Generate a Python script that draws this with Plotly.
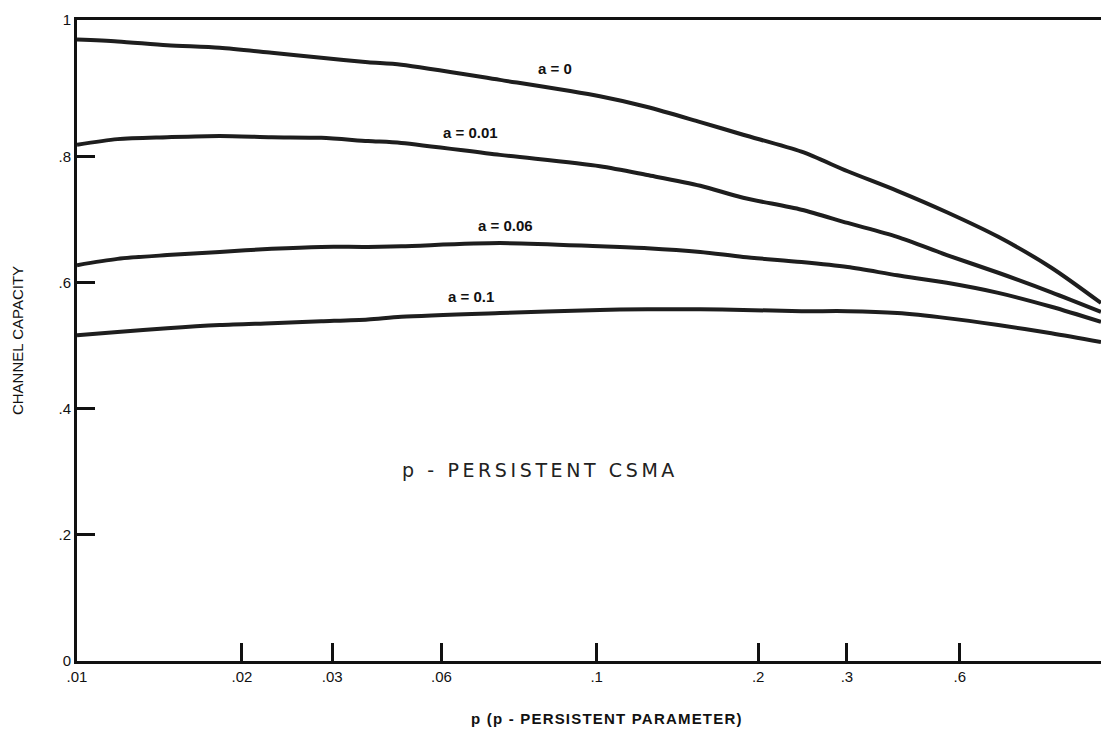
import plotly.graph_objects as go

# p values (x, log scale)
p_vals = [0.01, 0.012, 0.015, 0.019, 0.024, 0.03, 0.037, 0.043, 0.067, 0.105,
          0.13, 0.165, 0.2, 0.26, 0.32, 0.4, 0.5, 0.63, 0.8, 1.0]

# channel capacity for each a
cap_a0 = [0.986, 0.983, 0.977, 0.973, 0.965, 0.957, 0.950, 0.946, 0.922, 0.896,
          0.879, 0.855, 0.835, 0.808, 0.777, 0.746, 0.712, 0.673, 0.624, 0.568]
cap_a001 = [0.819, 0.828, 0.831, 0.833, 0.831, 0.830, 0.825, 0.822, 0.803, 0.785,
            0.771, 0.754, 0.735, 0.716, 0.695, 0.673, 0.644, 0.616, 0.585, 0.554]
cap_a006 = [0.628, 0.638, 0.644, 0.649, 0.654, 0.657, 0.657, 0.658, 0.663, 0.658,
            0.655, 0.649, 0.641, 0.633, 0.625, 0.612, 0.600, 0.584, 0.562, 0.538]
cap_a01 = [0.517, 0.522, 0.528, 0.533, 0.536, 0.539, 0.542, 0.546, 0.552, 0.557,
           0.558, 0.558, 0.557, 0.555, 0.555, 0.552, 0.544, 0.533, 0.520, 0.506]

series = [("a = 0", cap_a0), ("a = 0.01", cap_a001),
          ("a = 0.06", cap_a006), ("a = 0.1", cap_a01)]

x_tick_vals = [0.01, 0.021, 0.0315, 0.0515, 0.1035, 0.214, 0.319, 0.53, 1.0]
x_tick_text = [".01", ".02", ".03", ".06", ".1", ".2", ".3", ".6", "1"]
y_tick_vals = [0, 0.2, 0.4, 0.6, 0.8, 1.017]
y_tick_text = ["0", ".2", ".4", ".6", ".8", "1"]

fig = go.Figure()
for name, ys in series:
    fig.add_trace(go.Scatter(
        x=p_vals, y=ys, mode="lines", name=name,
        line=dict(color="#1e1e1e", width=4, shape="spline", smoothing=0.8),
        showlegend=False, hoverinfo="skip"))

font_main = "Liberation Sans, Arial, sans-serif"

labels = [("a = 0", 0.467, 0.925), ("a = 0.01", 0.384, 0.824),
          ("a = 0.06", 0.418, 0.679), ("a = 0.1", 0.385, 0.569)]
for txt, xp, yp in labels:
    fig.add_annotation(x=xp, y=yp, xref="paper", yref="paper", text=f"<b>{txt}</b>",
                       showarrow=False, font=dict(family=font_main, size=15, color="#111"),
                       xanchor="center", yanchor="middle")

fig.add_annotation(x=0.452, y=0.298, xref="paper", yref="paper",
                   text='<span style="letter-spacing:3.6px">p - PERSISTENT CSMA</span>',
                   showarrow=False,
                   font=dict(family="DejaVu Sans, sans-serif", size=19, color="#222"),
                   xanchor="center", yanchor="middle")

fig.add_annotation(x=-0.058, y=0.5, xref="paper", yref="paper",
                   text="CHANNEL CAPACITY", textangle=-90, showarrow=False,
                   font=dict(family=font_main, size=15, color="#111"),
                   xanchor="center", yanchor="middle")

fig.add_annotation(x=0.518, y=-0.089, xref="paper", yref="paper",
                   text='<b><span style="letter-spacing:1.2px">p (p - PERSISTENT PARAMETER)</span></b>',
                   showarrow=False,
                   font=dict(family=font_main, size=15, color="#111"),
                   xanchor="center", yanchor="middle")

fig.update_layout(
    width=1102, height=738,
    margin=dict(l=77, r=1, t=20, b=77),
    paper_bgcolor="white", plot_bgcolor="white",
    xaxis=dict(type="log", range=[-2, 0], tickvals=x_tick_vals, ticktext=x_tick_text,
               ticks="inside", ticklen=18, tickwidth=2.5, tickcolor="#111",
               showline=True, linewidth=3, linecolor="#111", mirror=True,
               showgrid=False, zeroline=False,
               tickfont=dict(family=font_main, size=15, color="#111")),
    yaxis=dict(range=[0, 1.017], tickvals=y_tick_vals, ticktext=y_tick_text,
               ticks="inside", ticklen=18, tickwidth=3, tickcolor="#111",
               showline=True, linewidth=3, linecolor="#111", mirror=False,
               showgrid=False, zeroline=False,
               tickfont=dict(family=font_main, size=15, color="#111")),
)

fig.write_html("out.html", config={"displayModeBar": False},
               post_script="document.body.style.margin='0px';document.body.style.overflow='hidden';")
